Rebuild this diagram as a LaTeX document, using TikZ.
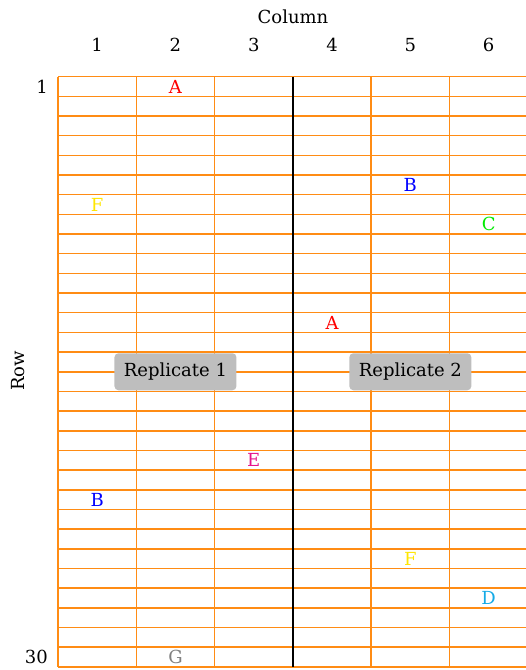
\documentclass[tikz,border=0pt]{standalone}
\usepackage{fontspec}
\setmainfont{DejaVu Serif}
\definecolor{gridorange}{RGB}{255,140,20}
\definecolor{repgray}{RGB}{190,190,190}
\definecolor{lred}{RGB}{255,0,0}
\definecolor{lblue}{RGB}{0,0,255}
\definecolor{lyellow}{RGB}{255,230,0}
\definecolor{lgreen}{RGB}{0,235,0}
\definecolor{lmagenta}{RGB}{230,20,140}
\definecolor{lcyan}{RGB}{20,170,230}
\definecolor{lgray}{RGB}{128,128,128}
\begin{document}
\begin{tikzpicture}[x=1pt,y=-1pt,
  lbl/.style={font=\fontsize{18}{21}\selectfont, inner sep=0pt},
  rep/.style={fill=repgray, rounded corners=4pt, minimum width=122pt, minimum height=37pt, inner sep=0pt, font=\fontsize{18}{21}\selectfont, text=black},
  gridline/.style={draw=gridorange, line width=1.5pt},
  divider/.style={draw=black, line width=2.6pt}]
\useasboundingbox (0,0) rectangle (526,670);
\def\xo{58}
\def\cw{78.3}
\def\yo{76.7}
\def\rh{19.67}
% grid
\foreach \i in {0,...,30}
  \draw[gridline] ({\xo},{\yo+\i*\rh}) -- ({\xo+6*\cw},{\yo+\i*\rh});
\foreach \j in {0,...,6}
  \draw[gridline] ({\xo+\j*\cw},{\yo}) -- ({\xo+\j*\cw},{\yo+30*\rh});
\draw[divider] ({\xo+3*\cw},{\yo}) -- ({\xo+3*\cw},{\yo+30*\rh});
% axis labels
\node[lbl] (coltitle) at (293,17) {Column};
\foreach \c in {1,...,6}
  \node[lbl] (col\c) at ({\xo+(\c-0.5)*\cw},45) {\c};
\node[lbl, anchor=east] (row1) at (48,{\yo+0.5*\rh}) {1};
\node[lbl, anchor=east] (row30) at (48,{\yo+29.5*\rh}) {30};
\node[lbl, rotate=90] (rowtitle) at (18,371) {Row};
% cell letters
\node[lbl, text=lred] (a1) at ({\xo+1.5*\cw},{\yo+0.5*\rh}) {A};
\node[lbl, text=lblue] (b1) at ({\xo+4.5*\cw},{\yo+5.5*\rh}) {B};
\node[lbl, text=lyellow] (f1) at ({\xo+0.5*\cw},{\yo+6.5*\rh}) {F};
\node[lbl, text=lgreen] (c1) at ({\xo+5.5*\cw},{\yo+7.5*\rh}) {C};
\node[lbl, text=lred] (a2) at ({\xo+3.5*\cw},{\yo+12.5*\rh}) {A};
\node[lbl, text=lmagenta] (e1) at ({\xo+2.5*\cw},{\yo+19.5*\rh}) {E};
\node[lbl, text=lblue] (b2) at ({\xo+0.5*\cw},{\yo+21.5*\rh}) {B};
\node[lbl, text=lyellow] (f2) at ({\xo+4.5*\cw},{\yo+24.5*\rh}) {F};
\node[lbl, text=lcyan] (d1) at ({\xo+5.5*\cw},{\yo+26.5*\rh}) {D};
\node[lbl, text=lgray] (g1) at ({\xo+1.5*\cw},{\yo+29.5*\rh}) {G};
% replicate labels
\node[rep] (rep1) at ({\xo+1.5*\cw},{\yo+15*\rh}) {Replicate 1};
\node[rep] (rep2) at ({\xo+4.5*\cw},{\yo+15*\rh}) {Replicate 2};
\end{tikzpicture}
\end{document}
